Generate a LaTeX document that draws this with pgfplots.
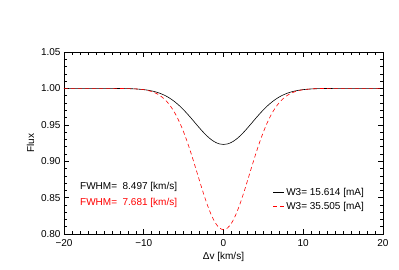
\documentclass[border=0pt]{standalone}
\usepackage{fontspec}
\setmainfont{Liberation Sans}
\usepackage{pgfplots}
\pgfplotsset{compat=1.18}
\begin{document}
\begin{tikzpicture}
\path[use as bounding box] (0,0) rectangle (399pt,269pt);
\begin{axis}[
  at={(64pt,35pt)}, anchor=south west,
  width=319pt, height=182pt, scale only axis,
  xmin=-20, xmax=20, ymin=0.80, ymax=1.05,
  xtick={-20,-10,0,10,20}, xticklabels={−20,−10,0,10,20},
  ytick={0.80,0.85,0.90,0.95,1.00,1.05},
  yticklabels={0.80,0.85,0.90,0.95,1.00,1.05},
  minor x tick num=9, minor y tick num=4,
  tick align=inside,
  major tick length=5pt, minor tick length=2.6pt,
  tick style={black, line width=0.5pt},
  axis line style={line width=0.6pt},
  font=\fontsize{10}{12}\selectfont,
  ticklabel style={font=\fontsize{10}{12}\selectfont},
  xticklabel style={yshift=-2pt},
  xlabel={Δv [km/s]}, ylabel={Flux},
  xlabel style={yshift=1pt},
  ylabel style={yshift=0pt},
  legend style={draw=none, fill=none, at={(0.95,0.27)}, anchor=north east,
    font=\fontsize{10}{12}\selectfont, row sep=1pt, inner sep=1pt,
    /tikz/every even column/.append style={column sep=2pt}},
  legend cell align=left,
  legend image code/.code={\draw[#1] (0pt,0pt) -- (11pt,0pt);},
]
\addplot[black, line width=0.6pt, smooth] coordinates {
(-20,1.0) (-16,1.0) (-15,0.99999) (-14,0.99996) (-13,0.99988) (-12,0.99970) (-11,0.99926) (-10,0.99835)
(-9.5,0.99760) (-9,0.99657) (-8.5,0.99520) (-8,0.99341) (-7.5,0.99112) (-7,0.98827)
(-6.5,0.98480) (-6,0.98068) (-5.5,0.97591) (-5,0.97052) (-4.5,0.96462) (-4,0.95835)
(-3.5,0.95190) (-3,0.94550) (-2.5,0.93943) (-2,0.93397) (-1.5,0.92937) (-1,0.92590)
(-0.5,0.92374) (0,0.92300) (0.5,0.92374) (1,0.92590) (1.5,0.92937) (2,0.93397)
(2.5,0.93943) (3,0.94550) (3.5,0.95190) (4,0.95835) (4.5,0.96462) (5,0.97052)
(5.5,0.97591) (6,0.98068) (6.5,0.98480) (7,0.98827) (7.5,0.99112) (8,0.99341)
(8.5,0.99520) (9,0.99657) (9.5,0.99760) (10,0.99835) (11,0.99926) (12,0.99970)
(13,0.99988) (14,0.99996) (15,0.99999) (16,1.0) (20,1.0)
};
\addlegendentry{W3= 15.614 [mA]}
\addplot[red, line width=0.6pt, dashed, dash pattern=on 4pt off 3pt, smooth] coordinates {
(-20,1.0) (-15,1.0) (-14,0.99998) (-13,0.99993) (-12,0.99978) (-11,0.99934) (-10,0.99823)
(-9.5,0.99721) (-9,0.99569) (-8.5,0.99349) (-8,0.99042) (-7.5,0.98620) (-7,0.98060)
(-6.5,0.97336) (-6,0.96426) (-5.5,0.95318) (-5,0.94008) (-4.5,0.92509) (-4,0.90853)
(-3.5,0.89091) (-3,0.87291) (-2.5,0.85537) (-2,0.83924) (-1.5,0.82547) (-1,0.81490)
(-0.5,0.80827) (0,0.80600) (0.5,0.80827) (1,0.81490) (1.5,0.82547) (2,0.83924)
(2.5,0.85537) (3,0.87291) (3.5,0.89091) (4,0.90853) (4.5,0.92509) (5,0.94008)
(5.5,0.95318) (6,0.96426) (6.5,0.97336) (7,0.98060) (7.5,0.98620) (8,0.99042)
(8.5,0.99349) (9,0.99569) (9.5,0.99721) (10,0.99823) (11,0.99934) (12,0.99978)
(13,0.99993) (14,0.99998) (15,1.0) (20,1.0)
};
\addlegendentry{W3= 35.505 [mA]}
\node[anchor=west, inner sep=0pt, black] at (axis cs:-18.0,0.8646) {FWHM=\ \ 8.497 [km/s]};
\node[anchor=west, inner sep=0pt, red] at (axis cs:-18.0,0.8426) {FWHM=\ \ 7.681 [km/s]};
\end{axis}
\end{tikzpicture}
\end{document}
